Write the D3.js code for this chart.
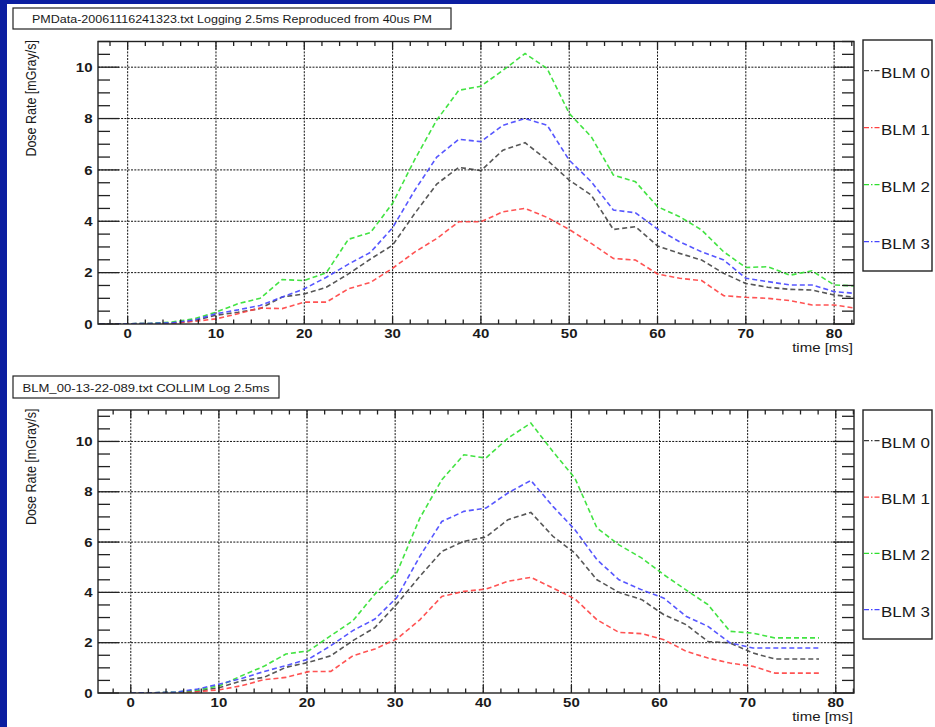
<!DOCTYPE html>
<html><head><meta charset="utf-8">
<script src="https://cdn.jsdelivr.net/npm/d3@7/dist/d3.min.js"></script>
<style>html,body{margin:0;padding:0;background:#fff;}svg{display:block;}</style>
</head><body><svg id="c" width="935" height="727"></svg>
<script>
// ---------- DATA ----------
const seriesNames = ["BLM 0", "BLM 1", "BLM 2", "BLM 3"];
const xTickLabels = [0, 10, 20, 30, 40, 50, 60, 70, 80];
const yTickLabels = [0, 2, 4, 6, 8, 10];

// Top panel (PMData ... Reproduced from 40us PM)
const topTitle = "PMData-20061116241323.txt Logging 2.5ms Reproduced from 40us PM";
const topTimes = [-5, -2.5, 0, 2.5, 5, 7.5, 10, 12.5, 15, 17.5, 20, 22.5, 25, 27.5, 30, 32.5, 35, 37.5, 40, 42.5, 45, 47.5, 50, 52.5, 55, 57.5, 60, 62.5, 65, 67.5, 70, 72.5, 75, 77.5, 80, 82.5];
const topBLM0 = [0, 0.01, 0.01, 0.02, 0.03, 0.12, 0.34, 0.46, 0.60, 1.05, 1.17, 1.43, 1.95, 2.53, 3.07, 4.30, 5.45, 6.10, 5.97, 6.77, 7.06, 6.38, 5.60, 5.02, 3.68, 3.79, 3.04, 2.75, 2.49, 1.97, 1.58, 1.43, 1.35, 1.32, 1.13, 1.04];
const topBLM1 = [0, 0.01, 0.01, 0.01, 0.02, 0.10, 0.20, 0.40, 0.62, 0.60, 0.85, 0.85, 1.37, 1.62, 2.17, 2.80, 3.33, 3.98, 3.98, 4.37, 4.50, 4.15, 3.68, 3.14, 2.55, 2.49, 1.95, 1.78, 1.69, 1.10, 1.04, 1.00, 0.91, 0.74, 0.74, 0.61];
const topBLM2 = [0, 0.01, 0.01, 0.02, 0.08, 0.20, 0.46, 0.79, 1.00, 1.73, 1.69, 2.00, 3.30, 3.56, 4.70, 6.40, 7.94, 9.10, 9.26, 9.88, 10.53, 9.95, 8.20, 7.29, 5.80, 5.54, 4.57, 4.18, 3.66, 2.81, 2.20, 2.23, 1.90, 2.07, 1.52, 1.48];
const topBLM3 = [0, 0.01, 0.01, 0.02, 0.05, 0.15, 0.40, 0.55, 0.72, 1.05, 1.37, 1.82, 2.33, 2.79, 3.75, 5.20, 6.50, 7.19, 7.10, 7.74, 8.00, 7.74, 6.38, 5.54, 4.44, 4.33, 3.70, 3.20, 2.81, 2.49, 1.78, 1.65, 1.52, 1.52, 1.26, 1.19];

// Bottom panel (BLM_00-13-22-089.txt COLLIM Log 2.5ms)
const botTitle = "BLM_00-13-22-089.txt COLLIM Log 2.5ms";
const botTimes = [0, 2.5, 5.0, 7.6, 10.1, 12.6, 15.1, 17.6, 20.2, 22.7, 25.2, 27.7, 30.2, 32.8, 35.3, 37.8, 40.3, 42.8, 45.4, 47.9, 50.4, 52.9, 55.4, 58.0, 60.5, 63.0, 65.5, 68.0, 70.6, 73.1, 75.6, 78.1];
const botBLM0 = [0, 0.01, 0.02, 0.07, 0.22, 0.49, 0.62, 1.02, 1.22, 1.48, 2.08, 2.60, 3.54, 4.64, 5.63, 6.03, 6.20, 6.89, 7.18, 6.23, 5.56, 4.50, 4.00, 3.71, 3.11, 2.72, 2.05, 1.99, 1.59, 1.35, 1.35, 1.35];
const botBLM1 = [0, 0.00, 0.01, 0.05, 0.13, 0.29, 0.53, 0.62, 0.85, 0.86, 1.48, 1.75, 2.15, 2.91, 3.84, 4.04, 4.13, 4.44, 4.60, 4.17, 3.74, 2.91, 2.41, 2.36, 2.12, 1.66, 1.39, 1.19, 1.06, 0.79, 0.79, 0.79];
const botBLM2 = [0, 0.01, 0.03, 0.12, 0.29, 0.69, 1.06, 1.55, 1.68, 2.28, 2.87, 3.93, 4.79, 6.95, 8.48, 9.47, 9.34, 10.13, 10.73, 9.60, 8.54, 6.56, 5.89, 5.36, 4.70, 4.10, 3.51, 2.45, 2.38, 2.19, 2.19, 2.19];
const botBLM3 = [0, 0.01, 0.03, 0.16, 0.36, 0.58, 0.85, 1.09, 1.35, 1.88, 2.48, 2.94, 3.80, 5.43, 6.82, 7.22, 7.35, 7.95, 8.45, 7.42, 6.49, 5.30, 4.50, 4.10, 3.77, 3.05, 2.65, 1.99, 1.79, 1.79, 1.79, 1.79];

// ---------- STYLE / LAYOUT ----------
const colors = ["#3a3a3a", "#ff4040", "#2ee02e", "#4545ff"];
const FONT = "'Liberation Sans', Arial, Helvetica, sans-serif";
const SX = 1.2; // horizontal stretch of the original rendering

const panels = [
  { title: topTitle, titleBox: [13, 8, 438, 21], titleBase: 22.5, titleLen: 400,
    frame: { x0: 98, x1: 854, y0: 41.5, y1: 324 }, xDomain: [-3.36, 82.25], yMax: 11.0,
    legend: { x: 863, y: 40, w: 69, h: 231 },
    times: topTimes, series: [topBLM0, topBLM1, topBLM2, topBLM3] },
  { title: botTitle, titleBox: [13, 376, 266, 22], titleBase: 391.5, titleLen: 247,
    frame: { x0: 98, x1: 854, y0: 410, y1: 693 }, xDomain: [-3.72, 82.07], yMax: 11.25,
    legend: { x: 863, y: 410, w: 69, h: 229 },
    times: botTimes, series: [botBLM0, botBLM1, botBLM2, botBLM3] }
];

const svg = d3.select("#c");
svg.append("rect").attr("x", 0).attr("y", 0).attr("width", 935).attr("height", 727).attr("fill", "#fff");
svg.append("rect").attr("x", 0).attr("y", 0).attr("width", 7).attr("height", 727).attr("fill", "#0b1ea0");
svg.append("rect").attr("x", 0).attr("y", 0).attr("width", 935).attr("height", 4).attr("fill", "#0b1ea0");

function stext(g, x, y, txt, size, anchor, weight) {
  return g.append("text")
    .attr("transform", `translate(${x},${y}) scale(${SX},1)`)
    .attr("text-anchor", anchor || "start")
    .attr("font-family", FONT).attr("font-size", size)
    .attr("font-weight", weight || "normal")
    .attr("fill", "#1a1a1a").text(txt);
}

panels.forEach((p, pi) => {
  const f = p.frame;
  const g = svg.append("g");
  const x = d3.scaleLinear().domain(p.xDomain).range([f.x0, f.x1]);
  const y = d3.scaleLinear().domain([0, p.yMax]).range([f.y1, f.y0]);

  // title box
  const tb = p.titleBox;
  g.append("rect").attr("x", tb[0]).attr("y", tb[1]).attr("width", tb[2]).attr("height", tb[3])
    .attr("fill", "#fff").attr("stroke", "#222").attr("stroke-width", 1.2);
  g.append("text").attr("x", tb[0] + tb[2] / 2).attr("y", p.titleBase)
    .attr("text-anchor", "middle").attr("font-family", FONT).attr("font-size", 11)
    .attr("textLength", p.titleLen).attr("lengthAdjust", "spacingAndGlyphs")
    .attr("fill", "#1a1a1a").text(p.title);

  // grid
  const grid = g.append("g").attr("stroke", "#111").attr("stroke-width", 1).attr("stroke-dasharray", "2,1.3");
  xTickLabels.forEach(v => {
    grid.append("line").attr("x1", x(v)).attr("x2", x(v)).attr("y1", f.y0).attr("y2", f.y1);
  });
  yTickLabels.filter(v => v > 0).forEach(v => {
    grid.append("line").attr("x1", f.x0).attr("x2", f.x1).attr("y1", y(v)).attr("y2", y(v));
  });

  // clip
  const cid = "clip" + pi;
  svg.append("clipPath").attr("id", cid).append("rect")
    .attr("x", f.x0).attr("y", f.y0).attr("width", f.x1 - f.x0).attr("height", f.y1 - f.y0);

  // series
  const line = d3.line().x((d, i) => x(p.times[i])).y(d => y(d));
  const lg = g.append("g").attr("clip-path", `url(#${cid})`);
  p.series.forEach((s, si) => {
    lg.append("path").attr("d", line(s)).attr("fill", "none")
      .attr("stroke", colors[si]).attr("stroke-width", 1.6)
      .attr("stroke-dasharray", "5,3").attr("stroke-opacity", si === 0 ? 0.85 : 0.9);
  });

  // frame
  g.append("rect").attr("x", f.x0).attr("y", f.y0).attr("width", f.x1 - f.x0).attr("height", f.y1 - f.y0)
    .attr("fill", "none").attr("stroke", "#222").attr("stroke-width", 1.4);

  // ticks
  const tk = g.append("g").attr("stroke", "#222").attr("stroke-width", 1.3);
  const yMinor = d3.range(0, p.yMax + 0.001, 0.5);
  yMinor.forEach(v => {
    const major = Math.abs(v % 2) < 1e-6;
    const L = major ? 21 : 12;
    tk.append("line").attr("x1", f.x0).attr("x2", f.x0 + L).attr("y1", y(v)).attr("y2", y(v));
    tk.append("line").attr("x1", f.x1).attr("x2", f.x1 - L).attr("y1", y(v)).attr("y2", y(v));
  });
  const xMinor = d3.range(-2, p.xDomain[1], 2).filter(v => v >= p.xDomain[0]);
  xMinor.forEach(v => {
    const major = Math.abs(v % 10) < 1e-6;
    const L = major ? 8 : 4.5;
    tk.append("line").attr("x1", x(v)).attr("x2", x(v)).attr("y1", f.y1).attr("y2", f.y1 - L);
    tk.append("line").attr("x1", x(v)).attr("x2", x(v)).attr("y1", f.y0).attr("y2", f.y0 + L);
  });

  // tick labels
  yTickLabels.forEach(v => stext(g, 92.5, y(v) + 4.6, String(v), 12.5, "end", "bold"));
  xTickLabels.forEach(v => stext(g, x(v), f.y1 + 13.5, String(v), 12.5, "middle", "bold"));

  // axis titles
  g.append("text")
    .attr("transform", `translate(36,${f.y0 - 1.5}) scale(${SX},1) rotate(-90)`)
    .attr("text-anchor", "end").attr("font-family", FONT).attr("font-size", 12.5)
    .attr("fill", "#1a1a1a").text("Dose Rate [mGray/s]");
  stext(g, 853, f.y1 + 27.5, "time [ms]", 12.5, "end");

  // legend
  const L = p.legend;
  g.append("rect").attr("x", L.x).attr("y", L.y).attr("width", L.w).attr("height", L.h)
    .attr("fill", "#fff").attr("stroke", "#222").attr("stroke-width", 1.4);
  seriesNames.forEach((n, i) => {
    const cy = L.y + 32.5 + i * (L.h - 60) / 3;
    g.append("line").attr("x1", L.x + 1).attr("x2", L.x + 17).attr("y1", cy - 1.8).attr("y2", cy - 1.8)
      .attr("stroke", colors[i]).attr("stroke-width", 1.3).attr("stroke-dasharray", "5,2,1.5,2,5");
    g.append("text").attr("x", L.x + 18).attr("y", cy + 5)
      .attr("font-family", FONT).attr("font-size", 14)
      .attr("textLength", 49).attr("lengthAdjust", "spacingAndGlyphs")
      .attr("fill", "#1a1a1a").text(n);
  });
});
</script></body></html>
